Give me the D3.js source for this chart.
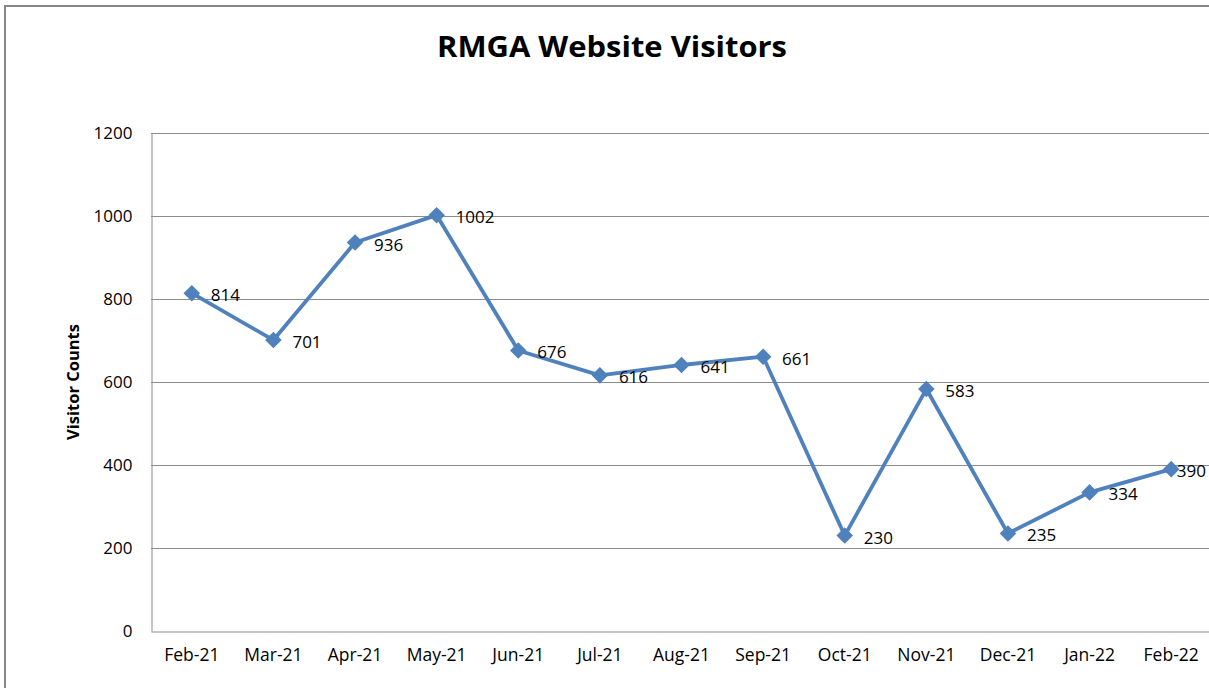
<!DOCTYPE html>
<html>
<head>
<meta charset="utf-8">
<script src="https://cdn.jsdelivr.net/npm/d3@7"></script>
<style>
  html, body { margin: 0; padding: 0; background: #fff; overflow: hidden; }
  svg { display: block; }
  text { font-family: "Open Sans", "Noto Sans", sans-serif; fill: #000; }
</style>
</head>
<body>
<script>
const months = ["Feb-21","Mar-21","Apr-21","May-21","Jun-21","Jul-21","Aug-21","Sep-21","Oct-21","Nov-21","Dec-21","Jan-22","Feb-22"];
const visitors = [814, 701, 936, 1002, 676, 616, 641, 661, 230, 583, 235, 334, 390];
const yTicks = [0, 200, 400, 600, 800, 1000, 1200];
const title = "RMGA Website Visitors";
const yLabel = "Visitor Counts";

const W = 1209, H = 688;
const svg = d3.select("body").append("svg").attr("width", W).attr("height", H);

// outer chart border
svg.append("rect").attr("x", 5).attr("y", 6).attr("width", 1300).attr("height", 1000)
  .attr("fill", "none").attr("stroke", "#878787").attr("stroke-width", 2);

const plot = { left: 151, top: 133, right: 1212, bottom: 631 };
const x = d3.scaleBand().domain(months).range([plot.left, plot.right]);
const y = d3.scaleLinear().domain([0, 1200]).range([plot.bottom, plot.top]);

// gridlines
svg.append("g").selectAll("line").data(yTicks.filter(d => d > 0)).join("line")
  .attr("x1", plot.left).attr("x2", plot.right)
  .attr("y1", d => Math.round(y(d)) + 0.5).attr("y2", d => Math.round(y(d)) + 0.5)
  .attr("stroke", "#8c8c8c").attr("stroke-width", 1);

// y axis
const yAxis = svg.append("g").attr("transform", `translate(${plot.left + 0.5},0)`)
  .call(d3.axisLeft(y).tickValues(yTicks).tickSize(0).tickPadding(19).tickFormat(d3.format("d")));
yAxis.select(".domain").attr("stroke", "#8c8c8c");
yAxis.selectAll("text").style("font-size", "17px").attr("fill", "#000").attr("dy", "0.35em");

// x axis
const xAxis = svg.append("g").attr("transform", `translate(0,${plot.bottom + 0.5})`)
  .call(d3.axisBottom(x).tickSize(0).tickPadding(17));
xAxis.select(".domain").attr("stroke", "#8c8c8c");
xAxis.selectAll("text").style("font-size", "17.5px").attr("fill", "#000");

// line
const cx = d => x(d) + x.bandwidth() / 2;
const pts = months.map((m, i) => [cx(m), y(visitors[i])]);
svg.append("path").datum(pts)
  .attr("d", d3.line())
  .attr("fill", "none").attr("stroke", "#4F81BD").attr("stroke-width", 3.8)
  .attr("stroke-linejoin", "round");

// markers
svg.append("g").selectAll("path").data(pts).join("path")
  .attr("d", d3.symbol(d3.symbolDiamond2, 175)())
  .attr("transform", d => `translate(${d[0]},${d[1]})`)
  .attr("fill", "#4F81BD");

// data labels (shifted left if they would run past the right edge)
const rightLimit = 1206;
svg.append("g").selectAll("text").data(months).join("text")
  .attr("x", (m) => cx(m) + 19)
  .attr("y", (m, i) => y(visitors[i]) + 2)
  .attr("dy", "0.35em")
  .style("font-size", "17px")
  .text((m, i) => visitors[i])
  .each(function() {
    const t = d3.select(this);
    const w = this.getComputedTextLength();
    const x0 = +t.attr("x");
    if (x0 + w > rightLimit) t.attr("x", rightLimit - w);
  });

// title
svg.append("text").attr("x", 612).attr("y", 57).attr("text-anchor", "middle")
  .attr("textLength", 350).attr("lengthAdjust", "spacingAndGlyphs")
  .style("font-size", "29px").style("font-weight", "bold").text(title);

// y label
svg.append("text").attr("transform", "translate(79,382) rotate(-90)")
  .attr("text-anchor", "middle").style("font-size", "16.5px").style("font-weight", "bold")
  .text(yLabel);
</script>
</body>
</html>
